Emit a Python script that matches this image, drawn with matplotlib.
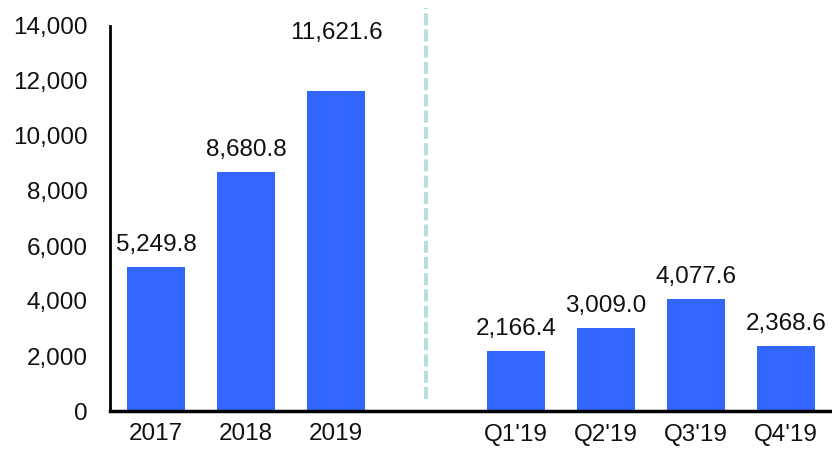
import matplotlib
matplotlib.use("Agg")
import matplotlib.pyplot as plt
from matplotlib.ticker import FuncFormatter

categories = ["2017", "2018", "2019", "Q1'19", "Q2'19", "Q3'19", "Q4'19"]
values = [5249.8, 8680.8, 11621.6, 2166.4, 3009.0, 4077.6, 2368.6]
positions = [0, 1, 2, 4, 5, 6, 7]
label_offsets = [8, 8, 34, 8, 8, 8, 8]  # points above bar top
divider_x = 3

plt.rcParams['font.family'] = ['Liberation Sans', 'DejaVu Sans']

fig = plt.figure(figsize=(8.32, 4.5), dpi=100)
ax = fig.add_axes([110/832, 39/450, 1 - 110/832, 385/450])

bar_color = "#3366FF"
ax.bar(positions, values, width=0.65, color=bar_color, zorder=2)

fs = 17.5
for x, v, off in zip(positions, values, label_offsets):
    ax.annotate(f"{v:,.1f}", xy=(x, v), xytext=(0, off), textcoords="offset points",
                ha="center", va="bottom", fontsize=fs, color="#111111")

ax.axvline(divider_x, ymin=0.03, ymax=1.047, color="#B9DEE2", linestyle=(0, (2.9, 1.0)),
           linewidth=3, clip_on=False, zorder=1)

ax.set_xlim(-0.51, 7.51)
ax.set_ylim(0, 14000)
ax.set_yticks(range(0, 14001, 2000))
ax.yaxis.set_major_formatter(FuncFormatter(lambda v, p: f"{int(v):,}"))
ax.set_xticks(positions)
ax.set_xticklabels(categories)

for s in ["top", "right"]:
    ax.spines[s].set_visible(False)
ax.spines["left"].set_linewidth(2)
ax.spines["bottom"].set_linewidth(2.5)
ax.tick_params(axis="both", length=0, labelsize=fs, colors="#111111")
ax.tick_params(axis="y", pad=16)
ax.tick_params(axis="x", pad=9)

fig.savefig("out.png", dpi=100)
